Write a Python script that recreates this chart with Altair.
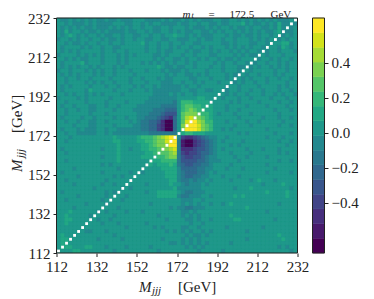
import altair as alt

FONT = "Liberation Serif"
INK = "#222222"

# Colour level (0-f) of each 2 GeV cell, top row first
rows = [
"8778787878 7787787778 8877778787 7878787778 8778878787 8787877788",
"8878777878 7777888778 8787887777 8778878877 8778889787 7878797787",
"8787878778 7778787878 8788778878 8878777878 7887877878 8778797878",
"8797887877 8787777877 8878778878 7877887787 8788787878 7877897778",
"8789878788 7877887887 7887887889 8878787778 8878778778 7887887878",
"7887878878 8787787887 8877887788 7778878778 8788788878 7878878788",
"8878778788 7887887888 8978878878 8788778888 8778788877 8878889978",
"8788887878 8788778888 8878878878 7887887878 8878787878 8788879878",
"8787878888 8788788788 8878878778 8878778878 7887878788 7878878887",
"7888878787 8788878787 8888778788 8788788877 8888787877 8878887888",
"8878787788 8788878788 8888787887 7878878788 7877878888 7887878878",
"8788889788 8788878788 8787878787 8878788887 8788788787 8878878788",
"8787878878 7888787888 8888898778 7788788878 8788877878 7887878788",
"7887888787 8788788878 8878887877 7878888788 8788878878 8888788788",
"8787878887 8788788887 8888888787 8877878788 8878778788 7888787888",
"8878878878 8887888878 8788878778 8887788878 8878787878 8878878878",
"8878888787 8788788878 8878887778 8788787888 7888787887 8878888788",
"8787888878 8878878887 8788787777 7878878888 8878878888 7888878788",
"8788888798 8888788878 8878777777 7887788778 8878878878 8788878878",
"8878788787 8788887888 8888777787 8788788888 8878788788 8788787887",
"7888878788 8887888888 8887777777 8888899888 8788878878 8887888788",
"8878888788 8878888788 8877777776 8aaa999988 8887878888 7888878878",
"8788788877 8878878888 7777776666 8abbaa9998 8878888788 8878888788",
"8878878877 8888788887 7777666555 8abcbaa998 8878878888 8888788878",
"8878888878 8878888888 7776665444 8bcccbaa98 7888788878 8888878888",
"8788887887 8888788788 7766654325 8bdedcba98 8888878888 8788878878",
"8878878877 8878888878 7665542005 8beffdcaa8 8878888788 7888887888",
"8888788877 8888788887 7665532005 8cfffecba8 8888788878 8888878878",
"8788878777 8878877777 7665532005 8cfffecba8 8787888888 8878888888",
"8878877777 8878777777 7776666666 89aa999888 8888878788 8888788878",
"8887888888 8888988888 9aaabcdeff 7322345677 8878888888 8878887888",
"8878888888 8888998888 99aabcceff 6100234567 8788887888 8888878878",
"8888888888 8888898888 899abccdff 6100234567 8887878888 8888888788",
"8788888888 8788898878 899aabccde 6222344567 8788888788 8788878888",
"8878888888 8888898888 8899abbbcd 6323345567 8887888878 8888878788",
"8888888888 8788898888 89999aabcc 6433445677 8888788788 8878888888",
"8878888888 8888898888 888999aaaa 6444455677 7888878888 8888878878",
"8888888888 8787888888 88898999a9 6544556678 8887888888 8878888888",
"8888788888 8888878888 8888889999 7555566778 8878887888 8888788888",
"8788888888 8788888878 8788888999 7655566787 8888888888 8878888878",
"8888878888 8888787888 8888888999 7655667788 8788878888 8888888888",
"8878888888 8878888888 8888888899 7667677878 8887888878 9888788888",
"8888788888 8788788888 8878888898 8767778788 8888888888 8788889888",
"8888888887 8888887878 8888888889 7777778888 8888788898 8888888878",
"8788888888 8878788888 8878899999 8766777888 8888888888 8898888988",
"8888878888 8878888788 8888899999 7667778878 8888989888 8888888988",
"8878888888 8788887888 8888888888 8777887888 8888888888 8888888888",
"8888888788 8878888888 8887888888 8787878878 8789888888 8888878888",
"8888788888 8888878888 8888888878 7766777888 8888888988 8888888888",
"8889888888 7878888788 8788888888 8778788888 8888888888 8878888888",
"8898888878 8888788888 8888878888 8787878888 8889888888 8888888888",
"8899888888 7887888888 8888888788 8877878878 8888998888 8888788888",
"8898888888 8788878888 8878888888 8887887888 8888888888 8888888888",
"8888888888 8888888788 8888787888 8778878888 8878888888 8788888888",
"8888888778 8878888888 8888888787 8787887878 8888888788 8888888888",
"8988888888 8888788888 8888888888 8878778788 8888888888 8888898888",
"8998888888 7888887888 8888887888 8787878888 8888888788 8888889888",
"8998888888 8888888888 8888888877 8787878788 8887888888 8888888888",
"8999888998 8878888788 8887888888 8878787888 8888888888 8888878788",
"8888998888 8888788888 8888878888 8888878888 8788888888 8888888878",
]

viridis16 = ["#440154", "#481a6c", "#472f7d", "#414487", "#39568c", "#31688e", "#2a788e", "#23888e",
             "#1f988b", "#22a884", "#35b779", "#54c568", "#7ad151", "#a5db36", "#d2e21b", "#fde725"]
mass_ticks = [112, 132, 152, 172, 192, 212, 232]
bar_ticks = [-0.4, -0.2, 0.0, 0.2, 0.4]
vmin, vmax = -0.686, 0.657
lo, hi, step = 112, 232, 2
W, H = 241, 235
step_v = (vmax - vmin) / 16

cells = []
for r, row in enumerate(rows):
    row = row.replace(" ", "")
    for c, ch in enumerate(row):
        cells.append({"x0": lo + c * step, "x1": lo + (c + 1) * step,
                      "y1": hi - r * step, "y0": hi - (r + 1) * step,
                      "v": vmin + (int(ch, 16) + 0.5) * step_v})
diag = [{"m": lo + step * (i + 0.5)} for i in range(60)]
bar = [{"a": vmin + i * step_v, "b": vmin + (i + 1) * step_v, "v": vmin + (i + 0.5) * step_v} for i in range(16)]

cscale = alt.Scale(type="quantize", domain=[vmin, vmax], range=viridis16)
color = alt.Color("v:Q", scale=cscale, legend=None)
stroke = alt.Stroke("v:Q", scale=cscale, legend=None)
xs = alt.Scale(domain=[lo, hi], nice=False, zero=False)
ys = alt.Scale(domain=[lo, hi], nice=False, zero=False)
axis_common = dict(grid=False, title=None, labelFont=FONT, labelFontSize=15, labelColor=INK,
                   tickColor=INK, tickSize=3.5, tickWidth=1, domain=False, labelPadding=3,
                   labelFlush=False, labelOverlap=False)
x_axis = alt.Axis(values=mass_ticks, **axis_common)

underlay = alt.Chart(alt.Data(values=[{}])).mark_rect(fill=viridis16[8]).encode(
    x=alt.value(0), x2=alt.value(W), y=alt.value(0), y2=alt.value(H))
heat = alt.Chart(alt.Data(values=cells)).mark_rect(strokeWidth=0.25).encode(
    x=alt.X("x0:Q", scale=xs, axis=x_axis),
    x2="x1:Q",
    y=alt.Y("y0:Q", scale=ys, axis=alt.Axis(values=mass_ticks, **axis_common)),
    y2="y1:Q",
    color=color,
    stroke=stroke,
)
dots = alt.Chart(alt.Data(values=diag)).mark_square(size=8, color="white", opacity=1).encode(
    x=alt.X("m:Q", scale=xs, axis=x_axis), y=alt.Y("m:Q", scale=ys, axis=None))


def frame(x0, x1):
    return alt.Chart(alt.Data(values=[{}])).mark_rect(fillOpacity=0, stroke=INK, strokeWidth=1).encode(
        x=alt.value(x0), x2=alt.value(x1), y=alt.value(0), y2=alt.value(H))


def label(text, x, y, size=15, italic=False, angle=0):
    return alt.Chart(alt.Data(values=[{"t": text}])).mark_text(
        font=FONT, fontSize=size, fontStyle="italic" if italic else "normal", color=INK,
        align="left", baseline="alphabetic", angle=angle).encode(
        x=alt.value(x), y=alt.value(y), text="t:N")


BAR0, BAR1 = 256, 268
texts = [
    label("m", 126, -0.3, size=11, italic=True), label("t", 135, -0.3, size=8, italic=True),
    label("=", 152, -0.3, size=11), label("172.5", 173, -0.3, size=11), label("GeV", 214, -0.3, size=11),
    label("M", 82.5, 273.5, italic=True), label("jjj", 95.5, 276, size=11, italic=True),
    label("[GeV]", 121.5, 273.5),
    label("M", -35, 154, italic=True, angle=270), label("jjj", -32.5, 140, size=11, italic=True, angle=270),
    label("[GeV]", -35, 115, angle=270),
]

cb = alt.Chart(alt.Data(values=bar)).mark_rect(strokeWidth=0.5).encode(
    x=alt.value(BAR0), x2=alt.value(BAR1),
    y=alt.Y("a:Q", scale=alt.Scale(domain=[vmin, vmax], nice=False, zero=False),
            axis=alt.Axis(values=bar_ticks, orient="right", offset=BAR1 - W, format=".1f", **axis_common)),
    y2="b:Q",
    color=color,
    stroke=stroke,
)

chart = alt.layer(underlay, heat, dots, frame(0, W), cb, frame(BAR0, BAR1), *texts).resolve_scale(
    y="independent").properties(
    width=W, height=H, background="white",
    autosize=alt.AutoSizeParams(type="none"),
    padding={"left": 48.5, "top": 10, "right": 68.5, "bottom": 44},
).configure_view(stroke=None)

chart.save("out.html", embed_options={"renderer": "svg", "actions": False})
